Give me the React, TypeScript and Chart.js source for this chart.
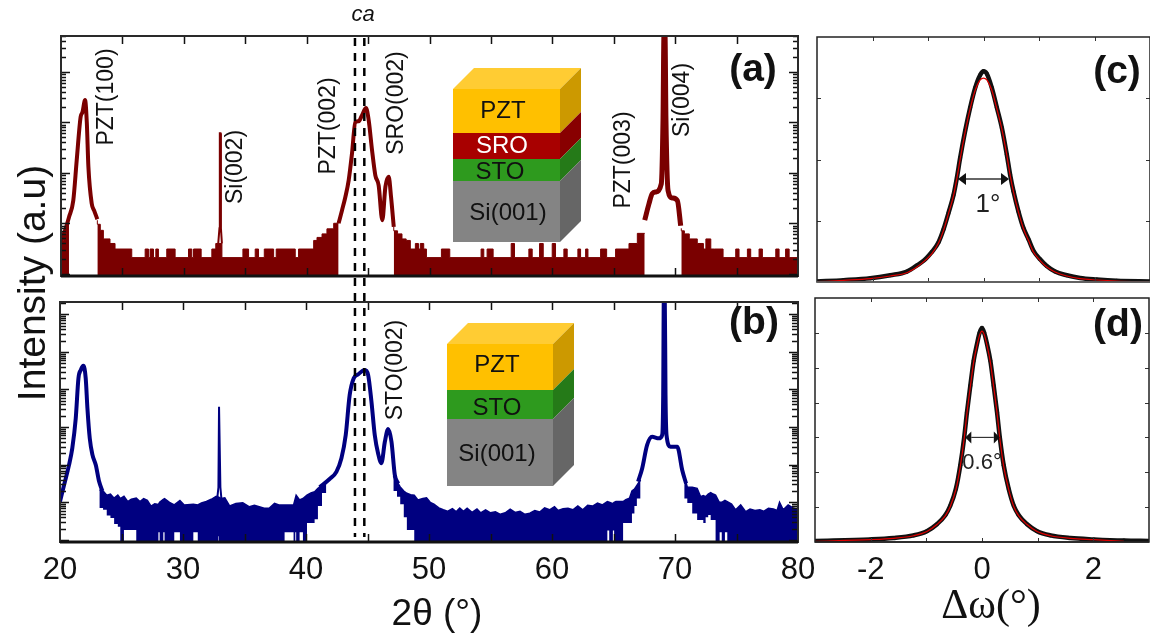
import React, { useEffect, useRef } from "react";
import { Chart, registerables } from "chart.js";

Chart.register(...registerables);

// ---------- data: log10(intensity) ----------
const F = -0.1; // below the floor of the axis

// panel (a) peaks
const aPeak1X = [20.0, 20.33, 20.65, 21.0, 21.28, 21.6, 21.75, 21.96, 22.1, 22.23, 22.5, 22.7, 22.96];
const aPeak1Y = [1.66, 1.86, 2.12, 2.45, 3.25, 4.11, 4.2, 4.44, 4.0, 3.12, 2.39, 2.25, 2.08];
const aPeak2X = [42.6, 42.88, 43.15, 43.42, 43.69, 43.96, 44.23, 44.51, 44.83, 45.05, 45.32, 45.59, 45.86, 46.16, 46.41, 46.68, 46.87, 47.09];
const aPeak2Y = [2.0, 2.26, 2.52, 2.85, 3.38, 4.0, 4.02, 4.14, 4.28, 4.04, 3.45, 2.95, 2.75, 2.06, 2.72, 2.92, 2.52, 1.93];
const aPeak3X = [67.52, 67.87, 68.14, 68.41, 68.87, 69.01, 69.09, 69.17, 69.25, 69.42, 69.77, 70.18, 70.45];
const aPeak3Y = [2.06, 2.39, 2.59, 2.62, 2.78, 4.04, 5.75, 5.75, 4.04, 2.65, 2.5, 2.45, 1.95];
const aSiX = [32.8, 32.9, 32.93, 32.98, 33.02, 33.1];
const aSiY = [1.6, 1.9, 3.78, 3.78, 1.9, 1.6];

// panel (a) stepped background bands (x is the right end of each step)
const aBand1X = [20.0, 20.2, 20.45, 20.65];
const aBand1Y = [1.6, 1.66, 1.8, 2.0];
const aBand2X = [22.96, 23.2, 23.45, 23.99, 24.4, 25.76, 26.85, 27.12, 27.25, 27.53, 27.72, 27.93, 28.61, 29.29, 30.38, 30.65, 30.79, 31.41, 32.28, 32.6, 33.1, 34.81, 35.27, 35.81, 36.08, 36.55, 37.31, 37.52, 39.07, 39.34, 40.57, 40.84, 41.25, 41.65, 42.2, 42.6];
const aBand2Y = [2.06, 1.98, 1.86, 1.69, 1.6, 1.49, 1.32, 1.49, 1.32, 1.49, 1.32, 1.49, 1.32, 1.49, 1.32, 1.49, 1.32, 1.49, 1.32, 1.49, 1.6, 1.32, 1.49, 1.32, 1.49, 1.32, 1.49, 1.32, 1.49, 1.32, 1.49, 1.66, 1.72, 1.79, 1.89, 2.0];
const aBand3X = [47.09, 47.4, 47.76, 48.1, 48.44, 48.85, 49.1, 49.25, 49.53, 49.75, 50.97, 51.65, 54.2, 54.42, 54.69, 55.18, 56.65, 56.92, 58.09, 58.36, 58.96, 59.26, 59.99, 60.26, 60.94, 61.21, 62.08, 62.3, 62.71, 62.9, 63.93, 64.42, 65.15, 66.24, 66.92, 67.52];
const aBand3Y = [1.93, 1.85, 1.79, 1.69, 1.66, 1.49, 1.6, 1.49, 1.6, 1.49, 1.32, 1.49, 1.32, 1.49, 1.32, 1.49, 1.32, 1.6, 1.32, 1.49, 1.32, 1.6, 1.32, 1.6, 1.32, 1.49, 1.32, 1.49, 1.32, 1.49, 1.32, 1.49, 1.32, 1.49, 1.6, 1.8];
const aBand4X = [70.5, 70.75, 71.15, 71.8, 72.3, 72.5, 72.9, 73.2, 73.9, 74.93, 75.2, 75.88, 76.15, 76.83, 77.1, 78.19, 78.46, 78.99, 79.28, 80.0];
const aBand4Y = [1.9, 1.85, 1.79, 1.69, 1.6, 1.49, 1.69, 1.49, 1.49, 1.32, 1.49, 1.32, 1.49, 1.32, 1.49, 1.32, 1.49, 1.32, 1.49, 1.32];

// panel (b) peaks
const bPeak1X = [20.0, 20.33, 20.73, 21.0, 21.28, 21.5, 21.69, 21.9, 22.09, 22.23, 22.42, 22.64, 22.91, 23.18, 23.45];
const bPeak1Y = [1.02, 1.46, 1.99, 2.44, 3.23, 4.3, 4.52, 4.63, 4.3, 3.5, 2.7, 2.26, 1.99, 1.55, 1.3];
const bPeak2X = [41.11, 41.92, 42.47, 42.88, 43.23, 43.55, 43.88, 44.23, 44.78, 45.05, 45.32, 45.59, 45.86, 46.13, 46.41, 46.68, 46.95, 47.22, 47.49];
const bPeak2Y = [1.4, 1.62, 1.81, 2.17, 2.79, 3.85, 4.3, 4.4, 4.52, 4.39, 3.68, 2.79, 2.3, 2.04, 2.61, 2.95, 2.61, 1.73, 1.5];
const bPeak3X = [67.0, 67.33, 67.73, 68.14, 68.68, 68.96, 69.04, 69.09, 69.17, 69.23, 69.31, 69.63, 70.18, 70.59, 70.9];
const bPeak3Y = [1.55, 1.9, 2.52, 2.74, 2.7, 2.79, 3.85, 6.4, 6.4, 3.85, 2.79, 2.48, 2.48, 1.85, 1.5];
const bSiX = [32.8, 32.88, 32.93, 32.99, 33.04, 33.12];
const bSiY = [1.15, 1.4, 3.54, 3.54, 1.4, 1.1];

// panel (b) noise bands: upper and lower edge
const bBand1X = [23.2, 23.5, 23.8, 24.1, 24.4, 24.7, 24.9, 25.2, 25.5, 25.8, 26.2, 26.5, 26.8, 27.1, 27.4, 27.7, 28.0, 28.1, 28.4, 28.5, 28.9, 29.29, 29.75, 30.1, 30.84, 31.2, 31.5, 31.9, 32.3, 32.7, 32.86, 32.9, 33.1, 33.4, 33.8, 34.3, 34.86, 35.4, 35.8, 36.2, 36.6, 37.0, 37.44, 37.8, 38.26, 38.99, 39.13, 39.2, 39.48, 39.75, 40.08, 40.4, 40.7, 40.97, 41.3, 41.65];
const bBand1Up = [1.33, 1.3, 1.19, 1.22, 1.11, 1.19, 1.1, 1.16, 1.02, 1.08, 1.11, 1.02, 1.1, 1.05, 0.9, 0.96, 0.94, 1.0, 1.08, 1.1, 1.0, 0.93, 1.05, 0.93, 0.95, 0.93, 0.98, 1.02, 1.08, 1.16, 1.14, 1.14, 1.1, 1.12, 0.9, 0.97, 0.99, 0.88, 0.92, 0.88, 0.84, 0.84, 0.97, 0.93, 0.93, 0.93, 1.1, 1.19, 1.06, 1.1, 1.19, 1.25, 1.28, 1.37, 1.45, 1.55];
const bBand1Lo = [0.95, 0.85, 0.8, 0.65, 0.58, 0.42, 0.35, F, 0.26, 0.26, 0.26, F, F, F, F, F, F, 0.2, F, 0.2, F, F, 0.2, F, F, 0.2, F, F, F, F, F, 0.1, F, F, F, F, F, F, F, F, F, F, F, F, F, 0.2, F, 0.2, F, 0.2, F, 0.45, 0.45, 0.55, 0.9, 1.25];
const bBand2X = [47.1, 47.4, 47.66, 47.95, 48.2, 48.5, 48.8, 49.1, 49.5, 49.8, 50.1, 50.4, 50.8, 51.16, 51.5, 51.9, 52.2, 52.5, 52.8, 53.1, 53.5, 53.9, 54.2, 54.6, 55.0, 55.4, 55.8, 56.2, 56.6, 57.0, 57.4, 57.8, 58.2, 58.6, 59.0, 59.4, 59.8, 60.2, 60.5, 60.9, 61.3, 61.7, 62.1, 62.5, 62.9, 63.3, 63.7, 64.1, 64.5, 64.65, 64.95, 65.05, 65.2, 65.78, 66.0, 66.3, 66.5, 66.7, 66.9, 67.2];
const bBand2Up = [1.7, 1.55, 1.41, 1.3, 1.24, 1.2, 1.19, 1.06, 1.1, 1.12, 1.0, 0.95, 0.85, 0.8, 0.76, 0.83, 0.75, 0.85, 0.76, 0.84, 0.73, 0.82, 0.72, 0.8, 0.72, 0.75, 0.68, 0.72, 0.82, 0.73, 0.76, 0.68, 0.71, 0.78, 0.74, 0.85, 0.8, 0.88, 0.78, 0.83, 0.84, 0.8, 0.9, 0.8, 0.92, 0.9, 0.98, 0.93, 1.02, 1.0, 0.96, 1.0, 1.02, 1.02, 1.07, 1.11, 1.3, 1.35, 1.45, 1.6];
const bBand2Lo = [1.5, 1.3, 1.15, 0.95, 0.6, 0.26, 0.26, F, F, F, F, F, F, F, F, F, F, F, F, F, F, F, F, F, F, F, F, F, F, F, F, F, F, F, F, F, F, F, F, F, F, F, F, F, F, F, F, F, F, 0.25, F, 0.25, F, F, 0.45, 0.45, 0.45, 0.7, 0.9, 1.1];
const bBand3X = [70.75, 71.0, 71.4, 71.8, 72.08, 72.3, 72.49, 72.7, 72.9, 73.1, 73.3, 73.57, 73.63, 73.8, 74.06, 74.25, 74.6, 74.93, 75.34, 75.75, 76.1, 76.5, 76.9, 77.2, 77.6, 78.0, 78.3, 78.5, 78.8, 79.2, 79.6, 80.0];
const bBand3Up = [1.68, 1.41, 1.4, 1.37, 1.15, 1.18, 1.15, 1.22, 1.26, 1.22, 1.19, 1.02, 1.0, 1.0, 1.05, 1.02, 0.95, 0.8, 0.93, 0.75, 0.82, 0.78, 0.8, 0.76, 0.84, 0.82, 0.78, 1.0, 0.8, 0.93, 0.85, 0.8];
const bBand3Lo = [1.33, 1.1, 0.98, 0.7, 0.53, 0.53, 0.45, 0.6, 0.66, 0.53, 0.53, F, F, 0.2, F, 0.2, F, F, F, F, F, F, F, F, F, F, F, F, F, F, F, F];

// rocking curves
const cX = [-3.0, -2.52, -2.04, -1.68, -1.38, -1.2, -1.05, -0.93, -0.81, -0.72, -0.63, -0.54, -0.48, -0.42, -0.33, -0.24, -0.15, -0.06, 0.0, 0.06, 0.15, 0.24, 0.33, 0.42, 0.48, 0.54, 0.63, 0.72, 0.81, 0.9, 1.02, 1.14, 1.29, 1.5, 1.74, 2.04, 2.4, 3.0];
const cFit = [0.005, 0.027, 0.054, 0.098, 0.152, 0.245, 0.353, 0.462, 0.636, 0.843, 1.12, 1.41, 1.69, 2.01, 2.45, 2.83, 3.13, 3.3, 3.33, 3.3, 3.13, 2.83, 2.5, 2.07, 1.74, 1.47, 1.14, 0.87, 0.68, 0.49, 0.35, 0.245, 0.163, 0.098, 0.054, 0.033, 0.016, 0.005];
const cObs = [0.01, 0.03, 0.06, 0.11, 0.17, 0.27, 0.37, 0.49, 0.65, 0.86, 1.13, 1.42, 1.7, 2.03, 2.47, 2.85, 3.17, 3.38, 3.44, 3.4, 3.17, 2.85, 2.52, 2.08, 1.75, 1.48, 1.15, 0.88, 0.7, 0.51, 0.37, 0.26, 0.17, 0.11, 0.065, 0.04, 0.02, 0.01];
const dX = [-3.0, -2.01, -1.59, -1.23, -0.99, -0.81, -0.66, -0.57, -0.47, -0.39, -0.32, -0.27, -0.21, -0.15, -0.09, -0.04, 0.0, 0.04, 0.09, 0.15, 0.21, 0.27, 0.32, 0.39, 0.48, 0.57, 0.66, 0.81, 0.99, 1.23, 1.59, 2.01, 2.55, 3.0];
const dFit = [0.02, 0.067, 0.105, 0.18, 0.3, 0.5, 0.75, 1.02, 1.5, 2.17, 2.97, 3.7, 4.45, 5.16, 5.64, 5.95, 6.05, 5.95, 5.64, 5.16, 4.45, 3.7, 2.97, 2.17, 1.5, 1.02, 0.75, 0.5, 0.3, 0.18, 0.105, 0.067, 0.02, 0.02];
const dObs = [0.03, 0.075, 0.115, 0.19, 0.31, 0.51, 0.77, 1.04, 1.52, 2.2, 3.0, 3.72, 4.48, 5.2, 5.68, 6.02, 6.14, 6.0, 5.68, 5.2, 4.48, 3.72, 3.0, 2.2, 1.52, 1.04, 0.77, 0.51, 0.31, 0.19, 0.115, 0.075, 0.04, 0.03];

// axes
const xTicksLeft = [25, 30, 35, 40, 45, 50, 55, 60, 65, 70, 75];
const xLabelsLeft = [20, 30, 40, 50, 60, 70, 80];
const xTicksRight = [-2, -1, 0, 1, 2];
const xLabelsRight = [-2, 0, 2];
const decadesA = [1, 2, 3, 4, 5];
const decadesB = [0, 1, 2, 3, 4, 5, 6];
const minorFactors = [2, 3, 4, 5, 6, 7, 8, 9];
const yTicksC = [1, 2, 3];
const yTicksD = [1, 2, 3, 4, 5, 6];
const caLines = [43.94, 44.7];

// ---------- colours / helpers ----------
const RED = "#7a0000";
const BLUE = "#000080";
const SANS = '"Liberation Sans", Arial, sans-serif';
const SERIF = '"Liberation Serif", "Times New Roman", serif';
const pow = (v: number) => Math.pow(10, v);
const logPts = (xs: number[], ys: number[]) => xs.map((x, i) => ({ x, y: pow(ys[i]) }));
const pts = (xs: number[], ys: number[]) => xs.map((x, i) => ({ x, y: ys[i] }));

const peak = (xs: number[], ys: number[], color: string, w: number) => ({
  data: logPts(xs, ys), borderColor: color, borderWidth: w, pointRadius: 0, fill: false,
  cubicInterpolationMode: "monotone" as const,
});
const band = (xs: number[], ys: number[], color: string) => ({
  data: logPts(xs, ys), borderColor: color, backgroundColor: color, borderWidth: 1, pointRadius: 0,
  stepped: "after" as const, fill: "start" as const,
});
const noise = (xs: number[], up: number[], lo: number[], color: string) => [
  { data: logPts(xs, lo), borderColor: color, borderWidth: 0, pointRadius: 0, stepped: "after" as const, fill: false },
  { data: logPts(xs, up), borderColor: color, backgroundColor: color, borderWidth: 1.5, pointRadius: 0, fill: "-1" as const },
];

function text(ctx: CanvasRenderingContext2D, s: string, x: number, y: number, font: string, color = "#111", rot = 0, base: CanvasTextBaseline = "middle") {
  ctx.save();
  ctx.translate(x, y);
  if (rot) ctx.rotate(rot);
  ctx.font = font;
  ctx.fillStyle = color;
  ctx.textAlign = "center";
  ctx.textBaseline = base;
  ctx.fillText(s, 0, 0);
  ctx.restore();
}

function poly(ctx: CanvasRenderingContext2D, p: number[][], color: string) {
  ctx.fillStyle = color;
  ctx.beginPath();
  p.forEach(([x, y], i) => (i ? ctx.lineTo(x, y) : ctx.moveTo(x, y)));
  ctx.closePath();
  ctx.fill();
}

type Layer = { h: number; color: string; side: string };
function block(ctx: CanvasRenderingContext2D, left: number, right: number, top: number, layers: Layer[]) {
  const d = 21;
  let y = top;
  poly(ctx, [[left, top], [right, top], [right + d, top - d], [left + d, top - d]], "#ffcc33");
  layers.forEach((l) => {
    poly(ctx, [[left, y], [right, y], [right, y + l.h], [left, y + l.h]], l.color);
    poly(ctx, [[right, y], [right + d, y - d], [right + d, y + l.h - d], [right, y + l.h]], l.side);
    y += l.h;
  });
}

function frameAndTicks(chart: any, opt: { width: number; color: string; bottomColor?: string; bottomWidth?: number; xTicks: number[]; xLen: number; yMajor: number[]; yMinor: number[]; yLen: number; yMinorLen: number; tw: number; tickColor: string; }) {
  const { ctx, chartArea: a, scales } = chart;
  ctx.save();
  ctx.strokeStyle = opt.tickColor;
  ctx.lineWidth = opt.tw;
  ctx.beginPath();
  opt.xTicks.forEach((v) => {
    const x = Math.round(scales.x.getPixelForValue(v)) + 0.5;
    ctx.moveTo(x, a.top); ctx.lineTo(x, a.top + opt.xLen);
    ctx.moveTo(x, a.bottom); ctx.lineTo(x, a.bottom - opt.xLen);
  });
  const yt = (v: number, len: number) => {
    const y = Math.round(scales.y.getPixelForValue(v)) + 0.5;
    if (y < a.top || y > a.bottom) return;
    ctx.moveTo(a.left, y); ctx.lineTo(a.left + len, y);
    ctx.moveTo(a.right, y); ctx.lineTo(a.right - len, y);
  };
  opt.yMajor.forEach((v) => yt(v, opt.yLen));
  opt.yMinor.forEach((v) => yt(v, opt.yMinorLen));
  ctx.stroke();
  ctx.strokeStyle = opt.color;
  ctx.lineWidth = opt.width;
  ctx.strokeRect(a.left, a.top, a.right - a.left, a.bottom - a.top);
  if (opt.bottomColor) {
    ctx.strokeStyle = opt.bottomColor;
    ctx.lineWidth = opt.bottomWidth || opt.width;
    ctx.beginPath(); ctx.moveTo(a.left, a.bottom); ctx.lineTo(a.right, a.bottom); ctx.stroke();
  }
  ctx.restore();
}

function arrow(chart: any, x0: number, x1: number, yv: number, len: number, half: number, lw: number) {
  const { ctx, scales } = chart;
  const a = scales.x.getPixelForValue(x0), b = scales.x.getPixelForValue(x1), y = scales.y.getPixelForValue(yv);
  ctx.save();
  ctx.strokeStyle = "#333"; ctx.lineWidth = lw;
  ctx.beginPath(); ctx.moveTo(a + len, y); ctx.lineTo(b - len, y); ctx.stroke();
  poly(ctx, [[a, y], [a + len, y - half], [a + len, y + half]], "#111");
  poly(ctx, [[b, y], [b - len, y - half], [b - len, y + half]], "#111");
  ctx.restore();
}

const minorsOf = (dec: number[]) => dec.flatMap((k) => minorFactors.map((m) => m * pow(k)));
const LABEL_FONT = `23px ${SANS}`;
const BOLD = `bold 39px ${SANS}`;
const UP = -Math.PI / 2;

// ---------- shared config ----------
function base(datasets: any[], padding: any, xOpt: any, yOpt: any, plugin: any) {
  return {
    type: "line" as const,
    data: { datasets },
    plugins: [plugin],
    options: {
      responsive: false, animation: false as const,
      layout: { padding, autoPadding: false },
      plugins: { legend: { display: false }, tooltip: { enabled: false }, title: { display: false } },
      scales: { x: xOpt, y: yOpt },
    },
  };
}

const hiddenX = (min: number, max: number) => ({ type: "linear", min, max, display: false });
const labelledX = (min: number, max: number, labels: number[], height: number) => ({
  type: "linear", min, max,
  grid: { display: false, drawTicks: false }, border: { display: false },
  afterBuildTicks: (s: any) => { s.ticks = labels.map((value) => ({ value })); },
  afterFit: (s: any) => { s.height = height; },
  ticks: { color: "#111", padding: 10, maxRotation: 0, autoSkip: false, font: { family: "Liberation Sans", size: 31 } },
});
const logY = (min: number, max: number) => ({ type: "logarithmic", min: pow(min), max: pow(max), display: false });
const linY = (min: number, max: number) => ({ type: "linear", min, max, display: false });

export default function App() {
  const a = useRef<HTMLCanvasElement>(null);
  const b = useRef<HTMLCanvasElement>(null);
  const c = useRef<HTMLCanvasElement>(null);
  const d = useRef<HTMLCanvasElement>(null);

  useEffect(() => {
    const chartA = new Chart(a.current!, base(
      [
        band(aBand1X, aBand1Y, RED), band(aBand2X, aBand2Y, RED), band(aBand3X, aBand3Y, RED), band(aBand4X, aBand4Y, RED),
        peak(aPeak1X, aPeak1Y, RED, 4), peak(aPeak2X, aPeak2Y, RED, 4), peak(aPeak3X, aPeak3Y, RED, 5),
        { ...peak(aSiX, aSiY, RED, 2), cubicInterpolationMode: "default" as const, tension: 0 },
      ],
      { left: 61, top: 36, right: 352, bottom: 359 },
      hiddenX(20, 80), logY(0.956, 5.708),
      {
        id: "panelA",
        afterDatasetsDraw(chart: any) {
          const ctx = chart.ctx;
          frameAndTicks(chart, { width: 2, color: "#2a2a2a", bottomColor: "#111", bottomWidth: 3, xTicks: xTicksLeft, xLen: 8, yMajor: decadesA.map(pow), yMinor: minorsOf([0, ...decadesA]), yLen: 9, yMinorLen: 5, tw: 1.5, tickColor: "#111" });
          block(ctx, 453, 560, 89, [
            { h: 44, color: "#ffc000", side: "#cc9900" },
            { h: 26, color: "#a80000", side: "#880000" },
            { h: 22, color: "#2e9a1e", side: "#257a18" },
            { h: 61, color: "#848484", side: "#666666" },
          ]);
          text(ctx, "PZT", 503, 111, `24px ${SANS}`);
          text(ctx, "SRO", 502, 146, `24px ${SANS}`, "#fff");
          text(ctx, "STO", 500, 172, `24px ${SANS}`);
          text(ctx, "Si(001)", 508, 213, `24px ${SANS}`);
          text(ctx, "PZT(100)", 107, 97, LABEL_FONT, "#111", UP);
          text(ctx, "Si(002)", 236, 167, LABEL_FONT, "#111", UP);
          text(ctx, "PZT(002)", 329, 126, LABEL_FONT, "#111", UP);
          text(ctx, "SRO(002)", 397, 103, LABEL_FONT, "#111", UP);
          text(ctx, "PZT(003)", 624, 160, LABEL_FONT, "#111", UP);
          text(ctx, "Si(004)", 683, 100, LABEL_FONT, "#111", UP);
          text(ctx, "(a)", 753, 70, BOLD);
          text(ctx, "ca", 363, 15, `italic 22px ${SANS}`);
          text(ctx, "Intensity (a.u)", 45, 283, `39px ${SANS}`, "#111", UP, "alphabetic");
        },
      }
    ) as any);

    const chartB = new Chart(b.current!, base(
      [
        ...noise(bBand1X, bBand1Up, bBand1Lo, BLUE), ...noise(bBand2X, bBand2Up, bBand2Lo, BLUE), ...noise(bBand3X, bBand3Up, bBand3Lo, BLUE),
        peak(bPeak1X, bPeak1Y, BLUE, 4), peak(bPeak2X, bPeak2Y, BLUE, 4), peak(bPeak3X, bPeak3Y, BLUE, 4),
        { ...peak(bSiX, bSiY, BLUE, 2), cubicInterpolationMode: "default" as const, tension: 0 },
      ],
      { left: 60, top: 302, right: 352, bottom: 0 },
      labelledX(20, 80, xLabelsLeft, 93), logY(-0.056, 6.327),
      {
        id: "panelB",
        afterDatasetsDraw(chart: any) {
          const ctx = chart.ctx;
          frameAndTicks(chart, { width: 2, color: "#2a2a2a", bottomColor: "#111", bottomWidth: 3, xTicks: xTicksLeft, xLen: 8, yMajor: decadesB.map(pow), yMinor: minorsOf(decadesB), yLen: 9, yMinorLen: 6, tw: 1.5, tickColor: "#111" });
          block(ctx, 447, 553, 344, [
            { h: 46, color: "#ffc000", side: "#cc9900" },
            { h: 29, color: "#2e9a1e", side: "#257a18" },
            { h: 67, color: "#848484", side: "#666666" },
          ]);
          text(ctx, "PZT", 497, 365, `24px ${SANS}`);
          text(ctx, "STO", 497, 408, `24px ${SANS}`);
          text(ctx, "Si(001)", 497, 454, `24px ${SANS}`);
          text(ctx, "STO(002)", 396, 370, LABEL_FONT, "#111", UP);
          text(ctx, "(b)", 754, 323, BOLD);
          text(ctx, "2θ (°)", 437, 625, `37px ${SANS}`, "#111", 0, "alphabetic");
          ctx.save();
          ctx.strokeStyle = "#000"; ctx.lineWidth = 2.5; ctx.setLineDash([8, 7]);
          ctx.beginPath();
          caLines.forEach((v) => {
            const x = chart.scales.x.getPixelForValue(v) + 0.5;
            ctx.moveTo(x, 38); ctx.lineTo(x, 537);
          });
          ctx.stroke();
          ctx.restore();
        },
      }
    ) as any);

    // Chart.js paints the first dataset last, so the fit comes first to lie on top of the dots.
    const dots = (xs: number[], ys: number[]) => ({ data: pts(xs, ys), borderColor: "#111", borderWidth: 4.5, pointRadius: 2, pointBackgroundColor: "#111", pointBorderWidth: 0, cubicInterpolationMode: "monotone" as const, fill: false });
    const fit = (xs: number[], ys: number[]) => ({ data: pts(xs, ys), borderColor: "#e00000", borderWidth: 1.2, pointRadius: 0, cubicInterpolationMode: "monotone" as const, fill: false });

    const chartC = new Chart(c.current!, base(
      [fit(cX, cFit), dots(cX, cObs)],
      { left: 817, top: 37, right: 0, bottom: 353 },
      hiddenX(-3, 3), linY(0, 4),
      {
        id: "panelC",
        afterDatasetsDraw(chart: any) {
          frameAndTicks(chart, { width: 1.5, color: "#222", bottomColor: "#666", xTicks: xTicksRight, xLen: 4, yMajor: yTicksC, yMinor: [], yLen: 4, yMinorLen: 0, tw: 1, tickColor: "#333" });
          arrow(chart, -0.46, 0.46, 1.68, 8, 6, 1.5);
          text(chart.ctx, "1°", 988, 205, `26px ${SANS}`, "#222");
          text(chart.ctx, "(c)", 1117, 72, BOLD);
        },
      }
    ) as any);

    const chartD = new Chart(d.current!, base(
      [fit(dX.slice(0, 33), dFit.slice(0, 33)), dots(dX, dObs)],
      { left: 815, top: 298, right: 1, bottom: 0 },
      labelledX(-3, 3, xLabelsRight, 93), linY(0, 7),
      {
        id: "panelD",
        afterDatasetsDraw(chart: any) {
          frameAndTicks(chart, { width: 1.5, color: "#222", bottomColor: "#222", xTicks: xTicksRight, xLen: 4, yMajor: yTicksD, yMinor: [], yLen: 4, yMinorLen: 0, tw: 1, tickColor: "#333" });
          arrow(chart, -0.3, 0.32, 3.0, 6, 6, 1.2);
          text(chart.ctx, "0.6°", 982, 463, `22px ${SANS}`, "#222");
          text(chart.ctx, "(d)", 1118, 325, BOLD);
          text(chart.ctx, "Δω(°)", 991, 618, `42px ${SERIF}`, "#111", 0, "alphabetic");
        },
      }
    ) as any);

    return () => { chartA.destroy(); chartB.destroy(); chartC.destroy(); chartD.destroy(); };
  }, []);

  const style: React.CSSProperties = { position: "absolute", left: 0, top: 0, width: 1150, height: 635 };
  return (
    <div style={{ position: "absolute", left: 0, top: 0, width: 1150, height: 635, background: "#fff", overflow: "hidden" }}>
      <canvas ref={a} width={1150} height={635} style={style} />
      <canvas ref={b} width={1150} height={635} style={style} />
      <canvas ref={c} width={1150} height={635} style={style} />
      <canvas ref={d} width={1150} height={635} style={style} />
    </div>
  );
}
